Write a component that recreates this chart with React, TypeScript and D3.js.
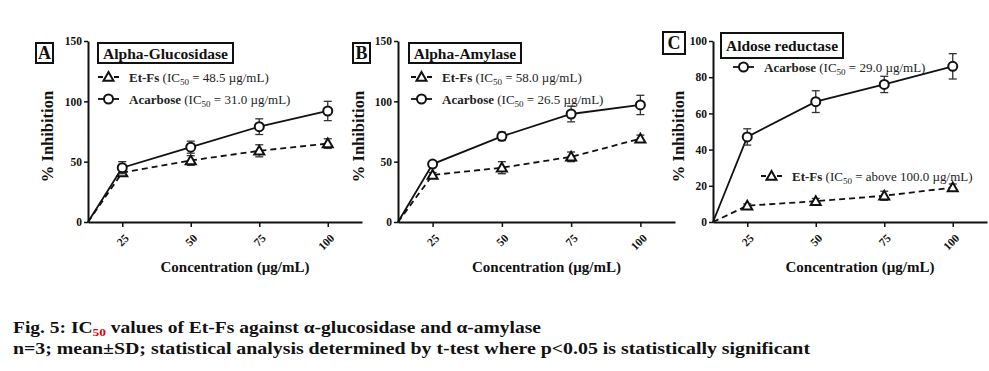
import { useEffect, useRef } from 'react';
import * as d3 from 'd3';

// concentrations in µg/mL (0 is the origin point of each curve)
const concentrations = [0, 25, 50, 75, 100];
const xTickValues = [25, 50, 75, 100];

// A: alpha-glucosidase
const glucEtFs = [0, 41, 51, 59, 65];
const glucEtFsSd = [0, 3, 4, 5, 4];
const glucAcarbose = [0, 45, 62, 79, 92];
const glucAcarboseSd = [0, 5, 5, 6.5, 8];

// B: alpha-amylase
const amylEtFs = [0, 39, 45, 54, 69];
const amylEtFsSd = [0, 2, 5, 4, 3];
const amylAcarbose = [0, 48, 71, 89.5, 97];
const amylAcarboseSd = [0, 2, 3.5, 6.5, 8];

// C: aldose reductase
const aldEtFs = [0, 9, 11.5, 14.5, 19];
const aldEtFsSd = [0, 1, 1.5, 2.5, 2];
const aldAcarbose = [0, 47, 66.5, 76, 86];
const aldAcarboseSd = [0, 4.5, 6, 4.5, 7];

const yTicksAB = [0, 50, 100, 150];
const yTicksC = [0, 20, 40, 60, 80, 100];

const FONT = '"Liberation Serif", "Times New Roman", serif';

interface Series {
  name: string;
  ic50: string;
  values: number[];
  sd: number[];
  marker: 'triangle' | 'circle';
  dashed: boolean;
  legend: { x: number; y: number };
}

interface PanelSpec {
  letter: string;
  title: string;
  left: number;
  right: number;
  yMax: number;
  yTicks: number[];
  letterBox: { x: number; y: number; w: number; h: number };
  titleBox: { x: number; y: number; w: number; h: number };
  yLabelX: number;
  series: Series[];
}

const panels: PanelSpec[] = [
  {
    letter: 'A', title: 'Alpha-Glucosidase', left: 88, right: 362, yMax: 150, yTicks: yTicksAB,
    letterBox: { x: 36, y: 43, w: 17, h: 20 }, titleBox: { x: 98, y: 43, w: 135, h: 20 }, yLabelX: 47,
    series: [
      { name: 'Et-Fs', ic50: '48.5 µg/mL', values: glucEtFs, sd: glucEtFsSd, marker: 'triangle', dashed: true, legend: { x: 98, y: 77 } },
      { name: 'Acarbose', ic50: '31.0 µg/mL', values: glucAcarbose, sd: glucAcarboseSd, marker: 'circle', dashed: false, legend: { x: 98, y: 99 } }
    ]
  },
  {
    letter: 'B', title: 'Alpha-Amylase', left: 398, right: 675, yMax: 150, yTicks: yTicksAB,
    letterBox: { x: 353, y: 43, w: 17, h: 20 }, titleBox: { x: 409, y: 43, w: 112, h: 20 }, yLabelX: 358,
    series: [
      { name: 'Et-Fs', ic50: '58.0 µg/mL', values: amylEtFs, sd: amylEtFsSd, marker: 'triangle', dashed: true, legend: { x: 411, y: 77 } },
      { name: 'Acarbose', ic50: '26.5 µg/mL', values: amylAcarbose, sd: amylAcarboseSd, marker: 'circle', dashed: false, legend: { x: 411, y: 99 } }
    ]
  },
  {
    letter: 'C', title: 'Aldose reductase', left: 713, right: 987, yMax: 100, yTicks: yTicksC,
    letterBox: { x: 663, y: 32, w: 22, h: 22 }, titleBox: { x: 721, y: 33, w: 122, h: 25 }, yLabelX: 678,
    series: [
      { name: 'Acarbose', ic50: '29.0 µg/mL', values: aldAcarbose, sd: aldAcarboseSd, marker: 'circle', dashed: false, legend: { x: 733, y: 67 } },
      { name: 'Et-Fs', ic50: 'above 100.0 µg/mL', values: aldEtFs, sd: aldEtFsSd, marker: 'triangle', dashed: true, legend: { x: 761, y: 176 } }
    ]
  }
];

const TOP = 41;
const BOTTOM = 222;

function drawMarker(g: any, kind: string, cx: number, cy: number) {
  if (kind === 'circle') {
    g.append('circle')
      .attr('cx', cx).attr('cy', cy).attr('r', 4.5)
      .attr('fill', '#fff').attr('stroke', '#111').attr('stroke-width', 2);
  } else {
    const s = 5;
    g.append('path')
      .attr('d', `M${cx},${cy - s}L${cx + s},${cy + s * 0.75}L${cx - s},${cy + s * 0.75}Z`)
      .attr('fill', '#fff').attr('stroke', '#111').attr('stroke-width', 2)
      .attr('stroke-linejoin', 'miter');
  }
}

function drawPanel(svg: any, p: PanelSpec) {
  const x = d3.scaleLinear().domain([12.5, 112.5]).range([p.left, p.right]).clamp(true);
  const y = d3.scaleLinear().domain([0, p.yMax]).range([BOTTOM, TOP]);

  const g = svg.append('g');

  // y axis
  const yAxis = g.append('g')
    .attr('transform', `translate(${p.left},0)`)
    .call(d3.axisLeft(y).tickValues(p.yTicks).tickSize(4).tickSizeOuter(0).tickPadding(2));
  yAxis.selectAll('text')
    .style('font-family', FONT).style('font-weight', 'bold').style('font-size', '11.5px').style('fill', '#111');

  // x axis
  const xAxis = g.append('g')
    .attr('transform', `translate(0,${BOTTOM})`)
    .call(d3.axisBottom(x).tickValues(xTickValues).tickSize(5).tickSizeOuter(0));
  xAxis.selectAll('text')
    .style('font-family', FONT).style('font-weight', 'bold').style('font-size', '11.5px').style('fill', '#111')
    .style('text-anchor', 'end')
    .attr('dy', '0.35em')
    .attr('y', 0)
    .attr('transform', 'translate(4,14) rotate(-45)');

  g.selectAll('.domain').attr('stroke', '#111').attr('stroke-width', 2);
  g.selectAll('.tick line').attr('stroke', '#111').attr('stroke-width', 1.5);

  // axis titles
  g.append('text')
    .attr('transform', `translate(${p.yLabelX},${(TOP + BOTTOM) / 2 + 5}) rotate(-90)`)
    .attr('text-anchor', 'middle').attr('dy', '0.35em')
    .style('font-family', FONT).style('font-weight', 'bold').style('font-size', '16.5px').style('fill', '#111')
    .text('% Inhibition');

  g.append('text')
    .attr('x', (p.left + p.right) / 2 + 10).attr('y', 272)
    .attr('text-anchor', 'middle')
    .style('font-family', FONT).style('font-weight', 'bold').style('font-size', '15px').style('fill', '#111')
    .text('Concentration (µg/mL)');

  // letter + title boxes
  const lb = p.letterBox;
  g.append('rect').attr('x', lb.x).attr('y', lb.y).attr('width', lb.w).attr('height', lb.h)
    .attr('fill', '#fff').attr('stroke', '#111').attr('stroke-width', 2);
  g.append('text').attr('x', lb.x + lb.w / 2).attr('y', lb.y + lb.h / 2).attr('dy', '0.36em')
    .attr('text-anchor', 'middle')
    .style('font-family', FONT).style('font-weight', 'bold').style('font-size', '18px').style('fill', '#111')
    .text(p.letter);

  const tb = p.titleBox;
  g.append('rect').attr('x', tb.x).attr('y', tb.y).attr('width', tb.w).attr('height', tb.h)
    .attr('fill', '#fff').attr('stroke', '#111').attr('stroke-width', 2);
  g.append('text').attr('x', tb.x + tb.w / 2).attr('y', tb.y + tb.h / 2).attr('dy', '0.36em')
    .attr('text-anchor', 'middle')
    .style('font-family', FONT).style('font-weight', 'bold').style('font-size', '15.5px').style('fill', '#111')
    .text(p.title);

  // series
  p.series.forEach(s => {
    const pts = concentrations.map((c, i) => ({ c, v: s.values[i], sd: s.sd[i] }));
    const line = d3.line<{ c: number; v: number }>().x(d => x(d.c)).y(d => y(d.v));

    g.append('path')
      .datum(pts)
      .attr('fill', 'none')
      .attr('stroke', '#111')
      .attr('stroke-width', 1.8)
      .attr('stroke-dasharray', s.dashed ? '6,4' : null)
      .attr('d', line);

    pts.filter(d => d.c > 0).forEach(d => {
      const cx = x(d.c);
      const eb = g.append('g').attr('stroke', '#333').attr('stroke-width', 1.3);
      eb.append('line').attr('x1', cx).attr('x2', cx).attr('y1', y(d.v + d.sd)).attr('y2', y(d.v - d.sd));
      eb.append('line').attr('x1', cx - 4).attr('x2', cx + 4).attr('y1', y(d.v + d.sd)).attr('y2', y(d.v + d.sd));
      eb.append('line').attr('x1', cx - 4).attr('x2', cx + 4).attr('y1', y(d.v - d.sd)).attr('y2', y(d.v - d.sd));
      drawMarker(g, s.marker, cx, y(d.v));
    });

    // legend entry
    const lx = s.legend.x;
    const ly = s.legend.y;
    g.append('line')
      .attr('x1', lx).attr('x2', lx + 21).attr('y1', ly).attr('y2', ly)
      .attr('stroke', '#111').attr('stroke-width', 1.8)
      .attr('stroke-dasharray', s.dashed ? '5,3' : null);
    drawMarker(g, s.marker, lx + 10.5, ly);

    const t = g.append('text')
      .attr('x', lx + 31).attr('y', ly).attr('dy', '0.35em')
      .style('font-family', FONT).style('font-size', '13px').style('fill', '#222');
    t.append('tspan').style('font-weight', 'bold').text(s.name);
    t.append('tspan').text(s.name === 'Acarbose' ? '  (IC' : ' (IC');
    t.append('tspan').attr('dy', 3).style('font-size', '9px').text('50');
    t.append('tspan').attr('dy', -3).text(` = ${s.ic50})`);
  });
}

export default function App() {
  const svgRef = useRef<SVGSVGElement>(null);

  useEffect(() => {
    if (!svgRef.current) return;
    const svg = d3.select(svgRef.current);
    svg.selectAll('*').remove();

    panels.forEach(p => drawPanel(svg, p));

    // caption
    const cap1 = svg.append('text')
      .attr('x', 13).attr('y', 333)
      .attr('textLength', 528).attr('lengthAdjust', 'spacingAndGlyphs')
      .style('font-family', FONT).style('font-weight', 'bold').style('font-size', '16px').style('fill', '#111');
    cap1.append('tspan').text('Fig. 5: IC');
    cap1.append('tspan').attr('dy', 3).style('fill', '#e00000').style('font-size', '11px').text('50');
    cap1.append('tspan').attr('dy', -3).text(' values of Et-Fs against α-glucosidase and α-amylase');

    svg.append('text')
      .attr('x', 13).attr('y', 354)
      .attr('textLength', 797).attr('lengthAdjust', 'spacingAndGlyphs')
      .style('font-family', FONT).style('font-weight', 'bold').style('font-size', '16px').style('fill', '#111')
      .text('n=3; mean±SD; statistical analysis determined by t-test where p<0.05 is statistically significant');
  }, []);

  return (
    <svg
      ref={svgRef}
      width={989}
      height={371}
      style={{ position: 'absolute', left: 0, top: 0, background: '#fff' }}
    />
  );
}
